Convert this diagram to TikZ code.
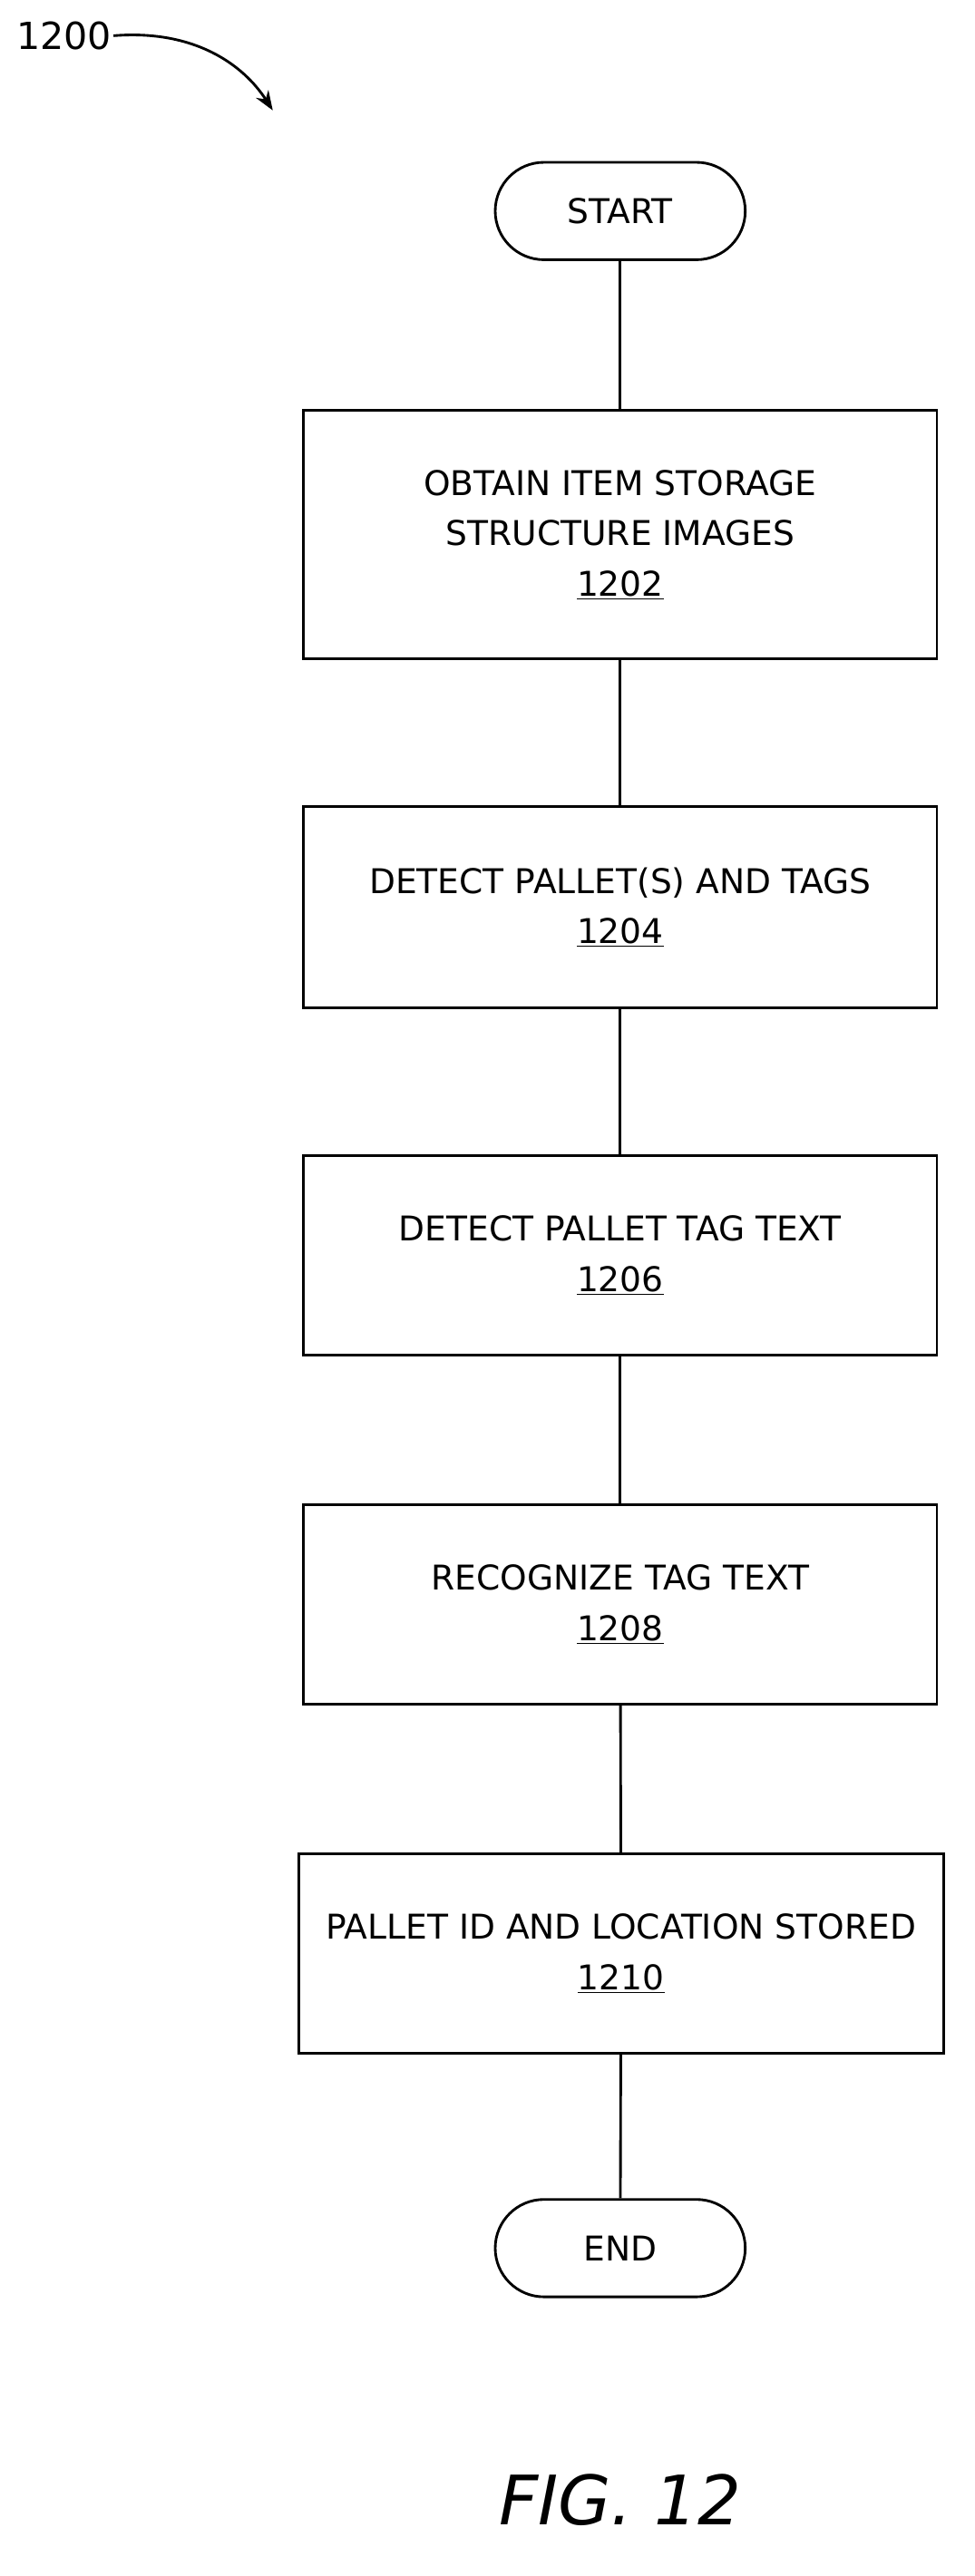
\documentclass[tikz,border=0pt]{standalone}
\usepackage{fontspec}
\setmainfont{DejaVu Sans}
\usetikzlibrary{arrows.meta}
\begin{document}
\begin{tikzpicture}[x=1pt,y=-1pt,
  box/.style={draw,line width=1.6pt,minimum width=390pt,align=center,font=\fontsize{21}{31}\selectfont},
  term/.style={draw,line width=1.6pt,rounded corners=30pt,minimum width=154pt,minimum height=60pt,font=\fontsize{21}{24}\selectfont},
  link/.style={line width=1.6pt}]
\useasboundingbox (0,0) rectangle (600,1587);
\node[term] (s) at (382,130) {START};
\node[box,minimum height=153pt] (b1) at (382,329.5) {OBTAIN ITEM STORAGE\\STRUCTURE IMAGES\\\underline{1202}};
\node[box,minimum height=124pt] (b2) at (382,559) {DETECT PALLET(S) AND TAGS\\\underline{1204}};
\node[box,minimum height=123pt] (b3) at (382,773.5) {DETECT PALLET TAG TEXT\\\underline{1206}};
\node[box,minimum height=123pt] (b4) at (382,988.5) {RECOGNIZE TAG TEXT\\\underline{1208}};
\node[box,minimum height=123pt,minimum width=397pt] (b5) at (382.5,1203.5) {PALLET ID AND LOCATION STORED\\\underline{1210}};
\node[term] (e) at (382,1385) {END};
\draw[link] (s)--(b1); \draw[link] (b1)--(b2); \draw[link] (b2)--(b3);
\draw[link] (b3)--(b4); \draw[link] (b4)--(b5); \draw[link] (b5)--(e);
\node[font=\fontsize{23}{26}\selectfont,anchor=west,inner sep=1pt] (lbl) at (9,22) {1200};
\coordinate (tip) at (168,68);
\draw[line width=1.6pt,-{Stealth[length=12pt,width=9pt]}] (lbl.east) .. controls (120,18) and (150,40) .. (tip);
\node[font=\fontsize{42}{46}\selectfont\itshape] (fig) at (382,1540) {FIG. 12};
\end{tikzpicture}
\end{document}
